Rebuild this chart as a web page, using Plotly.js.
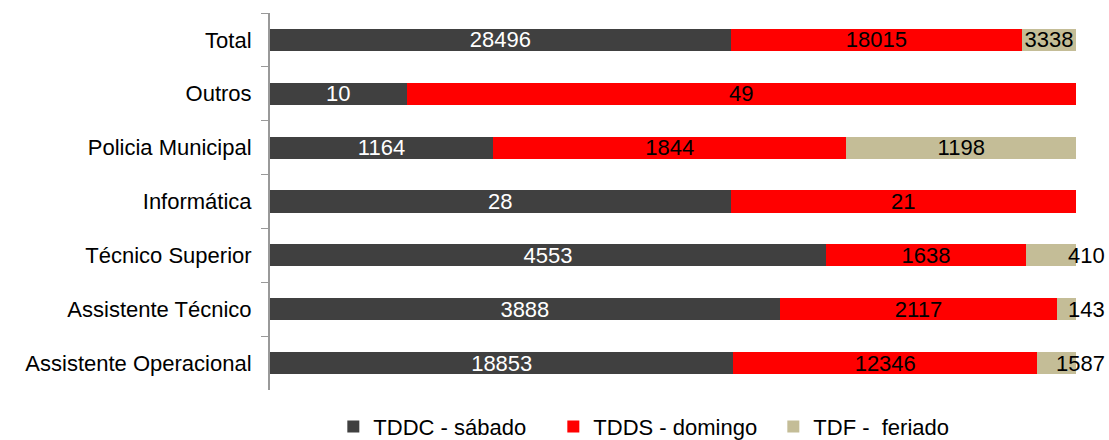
<!DOCTYPE html>
<html>
<head>
<meta charset="utf-8">
<script src="https://cdn.plot.ly/plotly-3.0.1.min.js"></script>
<style>
  body { margin: 0; background: #fff; }
  #chart { width: 1109px; height: 440px; }
</style>
</head>
<body>
<div id="chart"></div>
<script>
// categories, top to bottom
const categories = ['Total', 'Outros', 'Policia Municipal', 'Informática', 'Técnico Superior', 'Assistente Técnico', 'Assistente Operacional'];

const sabado = [28496, 10, 1164, 28, 4553, 3888, 18853];
const domingo = [18015, 49, 1844, 21, 1638, 2117, 12346];
const feriado = [3338, null, 1198, null, 410, 143, 1587];

// small feriado segments get their label as an annotation past the bar end
const feriadoOutside = [false, false, false, false, true, true, true];

const seriesNames = ['TDDC - sábado', 'TDDS - domingo', 'TDF -  feriado'];
const seriesColors = ['#404040', '#ff0000', '#c4bd97'];
const labelColors = ['#ffffff', '#000000', '#000000'];

const font = 'Liberation Sans, Arial, sans-serif';
const fsize = 22;

function makeTrace(values, i, positions) {
    return {
        type: 'bar',
        orientation: 'h',
        name: seriesNames[i],
        y: categories,
        x: values,
        text: values.map(v => v == null ? '' : String(v)),
        texttemplate: '%{text}',
        textposition: positions || 'inside',
        insidetextanchor: 'middle',
        textangle: 0,
        constraintext: 'none',
        textfont: {family: font, size: fsize, color: labelColors[i]},
        marker: {color: seriesColors[i], line: {width: 0}},
        hoverinfo: 'skip'
    };
}

const data = [
    makeTrace(sabado, 0),
    makeTrace(domingo, 1),
    makeTrace(feriado, 2, feriadoOutside.map(o => o ? 'none' : 'inside'))
];

const annotations = [];
categories.forEach((c, i) => {
    if (feriadoOutside[i]) {
        annotations.push({
            x: 100, y: c, xref: 'x', yref: 'y',
            text: String(feriado[i]),
            showarrow: false,
            xanchor: 'right',
            xshift: 31,
            font: {family: font, size: fsize, color: '#000000'}
        });
    }
});

const layout = {
    width: 1109,
    height: 440,
    margin: {l: 270, r: 33, t: 13, b: 50},
    barmode: 'stack',
    barnorm: 'percent',
    bargap: 0.59,
    paper_bgcolor: '#ffffff',
    plot_bgcolor: '#ffffff',
    font: {family: font, size: fsize, color: '#000000'},
    showlegend: true,
    legend: {
        orientation: 'h',
        x: 0.488, xanchor: 'center',
        yref: 'container', y: 0.03, yanchor: 'middle',
        font: {family: font, size: fsize, color: '#000000'},
        traceorder: 'normal',
        itemwidth: 30,
        entrywidth: 175
    },
    xaxis: {
        range: [0, 100],
        visible: false,
        fixedrange: true
    },
    yaxis: {
        type: 'category',
        autorange: 'reversed',
        showline: true,
        linecolor: '#999999',
        linewidth: 2,
        ticks: 'outside',
        tickson: 'boundaries',
        ticklen: 7,
        tickcolor: '#999999',
        tickwidth: 1,
        showgrid: false,
        zeroline: false,
        ticklabelstandoff: 12,
        tickfont: {family: font, size: fsize, color: '#000000'},
        fixedrange: true
    },
    annotations: annotations
};

Plotly.newPlot('chart', data, layout, {displayModeBar: false, staticPlot: true});
</script>
</body>
</html>
